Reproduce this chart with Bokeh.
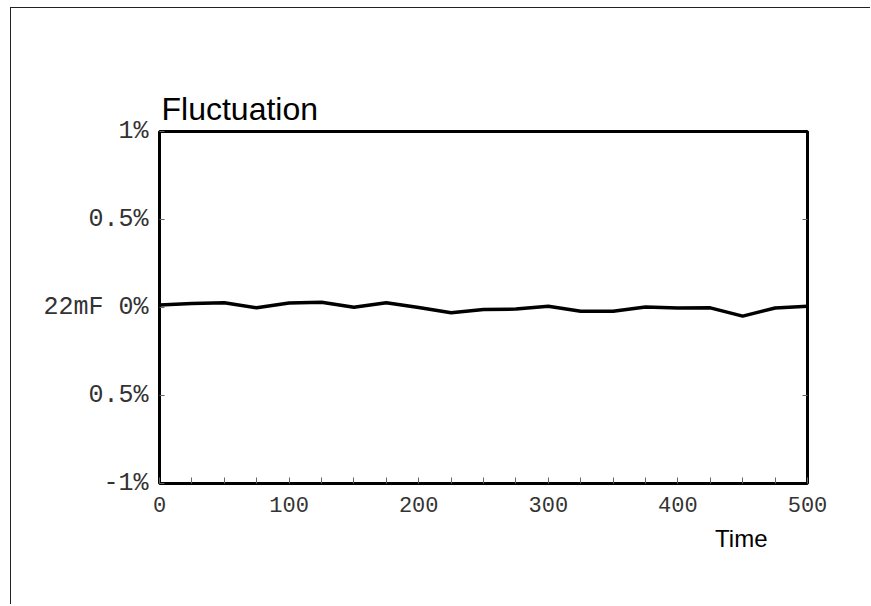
from bokeh.plotting import figure
from bokeh.models import Range1d, FixedTicker, LinearAxis, Title
from bokeh.embed import file_html
from bokeh.resources import INLINE

# ---- data ----
time = [0, 25, 50, 75, 100, 125, 150, 175, 200, 225, 250,
        275, 300, 325, 350, 375, 400, 425, 450, 475, 500]
fluctuation = [0.014, 0.023, 0.027, -0.002, 0.026, 0.030, 0.002, 0.027, 0.000, -0.030, -0.011,
               -0.009, 0.007, -0.021, -0.021, 0.003, -0.003, -0.002, -0.049, -0.003, 0.007]
x_ticks = [0, 100, 200, 300, 400, 500]
x_minor_ticks = [25, 50, 75, 125, 150, 175, 225, 250, 275, 325, 350, 375, 425, 450, 475]
y_ticks = [-1, -0.5, 0, 0.5, 1]
y_tick_labels = ["-1%", "0.5%", "22mF 0%", "0.5%", "1%"]
right_ticks = [-0.5, 0.5]
title_text = "Fluctuation"
x_label = "Time"

MONO = "Liberation Mono"
SANS = "Liberation Sans"
TICK_COLOR = "#666666"
LABEL_COLOR = "#333333"

p = figure(width=860, height=597, output_backend="svg", toolbar_location=None,
           x_range=Range1d(0, 500), y_range=Range1d(-1, 1),
           min_border_left=148, min_border_right=64,
           min_border_top=123, min_border_bottom=122)
p.styles = {"border-left": "1px solid #222222", "border-top": "1px solid #222222",
            "margin-left": "10px", "margin-top": "7px"}

p.grid.visible = False
p.outline_line_color = "black"
p.outline_line_width = 3
p.outline_line_alpha = 1.0

# title
p.title.text = title_text
p.title.text_font = SANS
p.title.text_font_size = "32px"
p.title.text_font_style = "normal"
p.title.text_color = "black"
p.title.align = "left"
p.title.offset = 2
p.title.standoff = 10

# x axis
xa = p.xaxis[0]
xa.ticker = FixedTicker(ticks=x_ticks, minor_ticks=x_minor_ticks)
xa.axis_line_color = None
xa.major_tick_in = 6
xa.major_tick_out = 0
xa.minor_tick_in = 6
xa.minor_tick_out = 0
xa.major_tick_line_color = TICK_COLOR
xa.minor_tick_line_color = TICK_COLOR
xa.major_label_text_font = MONO
xa.major_label_text_font_size = "22px"
xa.major_label_text_color = LABEL_COLOR
xa.major_label_standoff = 13

# left y axis
ya = p.yaxis[0]
ya.ticker = FixedTicker(ticks=y_ticks)
ya.major_label_overrides = {t: lab for t, lab in zip(y_ticks, y_tick_labels)}
ya.axis_line_color = None
ya.major_tick_in = 5
ya.major_tick_out = 0
ya.minor_tick_line_color = None
ya.major_tick_line_color = TICK_COLOR
ya.major_label_text_font = MONO
ya.major_label_text_font_size = "25px"
ya.major_label_text_color = LABEL_COLOR
ya.major_label_standoff = 11

# right axis (ticks only)
ra = LinearAxis(ticker=FixedTicker(ticks=right_ticks),
                major_label_overrides={t: "" for t in right_ticks},
                axis_line_color=None, major_tick_in=5, major_tick_out=0,
                major_tick_line_color=TICK_COLOR, minor_tick_line_color=None)
p.add_layout(ra, "right")

# data line
p.line(time, fluctuation, line_color="black", line_width=3.5)

# axis title, right-aligned under the x axis
p.add_layout(Title(text=x_label, text_font=SANS, text_font_size="24px",
                   text_font_style="normal", text_color="black",
                   align="right", offset=40, standoff=17), "below")

open("out.html", "w").write(file_html(p, INLINE))
